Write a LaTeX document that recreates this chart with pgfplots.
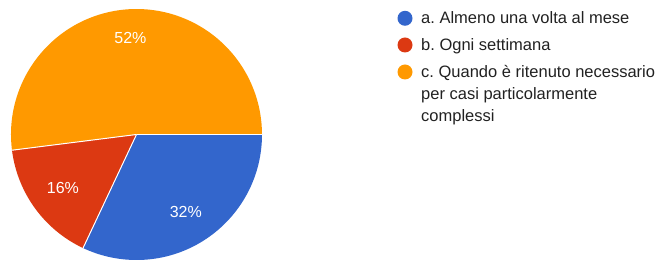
\documentclass[border=0pt]{standalone}
\usepackage{pgfplots}
\usepackage{pgfplotstable}
\pgfplotsset{compat=1.18}
\usepackage{fontspec}
\setmainfont{Liberation Sans}
\frenchspacing
\definecolor{gblue}{HTML}{3366CC}
\definecolor{gred}{HTML}{DC3912}
\definecolor{gorange}{HTML}{FF9900}
\definecolor{gtext}{HTML}{212121}
\pgfplotstableread{
idx value labr
0 32 92
1 16 91
2 52 97
}\piedata
\pgfplotstablegetelem{0}{value}\of\piedata\edef\vA{\pgfplotsretval}%
\pgfplotstablegetelem{1}{value}\of\piedata\edef\vB{\pgfplotsretval}%
\pgfplotstablegetelem{2}{value}\of\piedata\edef\vC{\pgfplotsretval}%
\pgfplotstablegetelem{0}{labr}\of\piedata\edef\rA{\pgfplotsretval}%
\pgfplotstablegetelem{1}{labr}\of\piedata\edef\rB{\pgfplotsretval}%
\pgfplotstablegetelem{2}{labr}\of\piedata\edef\rC{\pgfplotsretval}%
\pgfmathsetmacro\eA{-3.6*\vA}%
\pgfmathsetmacro\eB{\eA-3.6*\vB}%
\pgfmathsetmacro\eC{\eB-3.6*\vC}%
\pgfmathsetmacro\mA{\eA/2}%
\pgfmathsetmacro\mB{(\eA+\eB)/2}%
\pgfmathsetmacro\mC{(\eB+\eC)/2}%
\begin{document}%
\begin{tikzpicture}
\begin{axis}[hide axis, scale only axis, width=662pt, height=262pt,
  xmin=0, xmax=662, ymin=0, ymax=262, clip=false]
% fix the bounding box to the full canvas
\path (axis cs:0,0) rectangle (axis cs:662,262);
% pie slices
\fill[gblue] (axis cs:136.5,127.5) -- ++(0:125.5pt) arc[start angle=0, end angle=\eA, radius=125.5pt] -- cycle;
\fill[gred] (axis cs:136.5,127.5) -- ++(\eA:125.5pt) arc[start angle=\eA, end angle=\eB, radius=125.5pt] -- cycle;
\fill[gorange] (axis cs:136.5,127.5) -- ++(\eB:125.5pt) arc[start angle=\eB, end angle=\eC, radius=125.5pt] -- cycle;
% separators
\draw[white, line width=1pt] (axis cs:136.5,127.5) -- ++(0:125.5pt);
\draw[white, line width=1pt] (axis cs:136.5,127.5) -- ++(\eA:125.5pt);
\draw[white, line width=1pt] (axis cs:136.5,127.5) -- ++(\eB:125.5pt);
% slice labels
\node[text=white, font=\fontsize{16}{19}\selectfont, inner sep=0] at ([shift={(\mA:\rA pt)}]axis cs:136.5,127.5) {\vA\%};
\node[text=white, font=\fontsize{16}{19}\selectfont, inner sep=0] at ([shift={(\mB:\rB pt)}]axis cs:136.5,127.5) {\vB\%};
\node[text=white, font=\fontsize{16}{19}\selectfont, inner sep=0] at ([shift={(\mC:\rC pt)}]axis cs:136.5,127.5) {\vC\%};
% legend
\fill[gblue] (axis cs:405,243.7) circle[radius=7.5pt];
\fill[gred] (axis cs:405,217) circle[radius=7.5pt];
\fill[gorange] (axis cs:405,190) circle[radius=7.5pt];
\begin{scope}[every node/.style={anchor=base west, inner sep=0, text=gtext, font=\fontsize{16.5}{19}\selectfont}]
\node at (axis cs:421,238.3) {a. Almeno una volta al mese};
\node at (axis cs:421,211.3) {b. Ogni settimana};
\node at (axis cs:421,184.7) {c. Quando è ritenuto necessario};
\node at (axis cs:421,162.5) {per casi particolarmente};
\node at (axis cs:421,140.3) {complessi};
\end{scope}
\end{axis}
\end{tikzpicture}%
\end{document}
